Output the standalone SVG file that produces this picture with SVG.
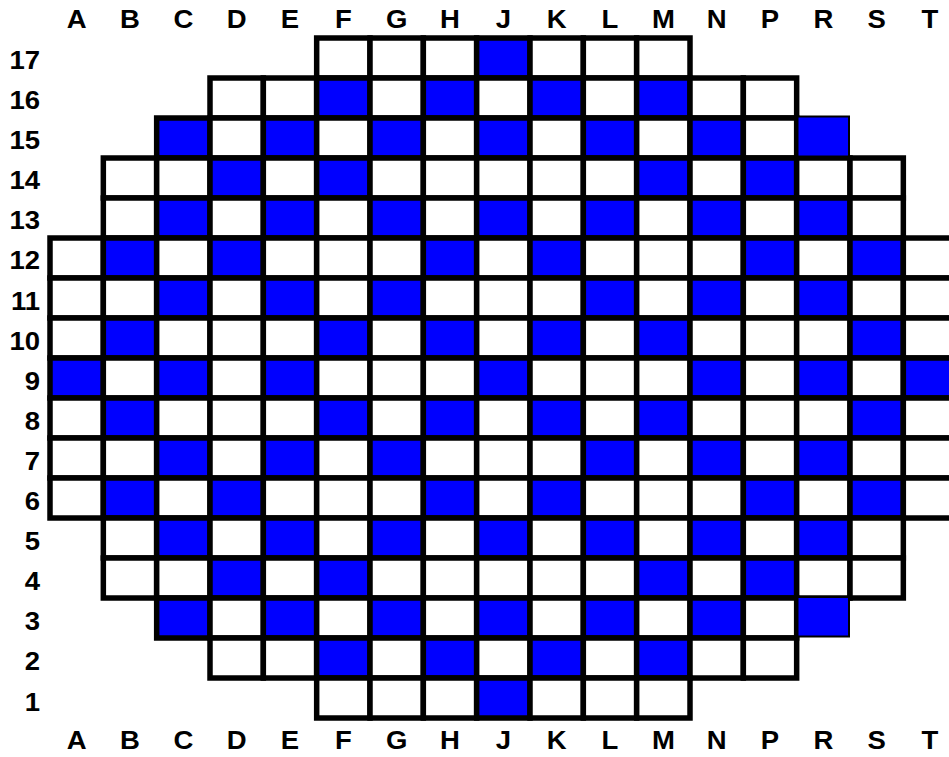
<svg xmlns="http://www.w3.org/2000/svg" width="949" height="757" viewBox="0 0 949 757">
<style>
rect{stroke:#000;stroke-width:5.5}
.w{fill:#fff}
.b{fill:#00f}
.x{fill:#00f;stroke-width:2}
text{font-family:"Liberation Sans",Arial,Helvetica,sans-serif;font-weight:bold;font-size:25px;fill:#000}
.col{text-anchor:middle}
.row{text-anchor:end}
</style>
<rect x="0" y="0" width="949" height="757" fill="#fff" style="stroke:none"/>
<g id="grid">
<g id="row-17">
<rect class="w" x="316.67" y="38" width="53.33" height="40"/><rect class="w" x="370" y="38" width="53.33" height="40"/><rect class="w" x="423.33" y="38" width="53.33" height="40"/><rect class="b" x="476.67" y="38" width="53.33" height="40"/><rect class="w" x="530" y="38" width="53.33" height="40"/><rect class="w" x="583.33" y="38" width="53.33" height="40"/><rect class="w" x="636.67" y="38" width="53.33" height="40"/>
</g>
<g id="row-16">
<rect class="w" x="210" y="78" width="53.33" height="40"/><rect class="w" x="263.33" y="78" width="53.33" height="40"/><rect class="b" x="316.67" y="78" width="53.33" height="40"/><rect class="w" x="370" y="78" width="53.33" height="40"/><rect class="b" x="423.33" y="78" width="53.33" height="40"/><rect class="w" x="476.67" y="78" width="53.33" height="40"/><rect class="b" x="530" y="78" width="53.33" height="40"/><rect class="w" x="583.33" y="78" width="53.33" height="40"/><rect class="b" x="636.67" y="78" width="53.33" height="40"/><rect class="w" x="690" y="78" width="53.33" height="40"/><rect class="w" x="743.33" y="78" width="53.33" height="40"/>
</g>
<g id="row-15">
<rect class="b" x="156.67" y="118" width="53.33" height="40"/><rect class="w" x="210" y="118" width="53.33" height="40"/><rect class="b" x="263.33" y="118" width="53.33" height="40"/><rect class="w" x="316.67" y="118" width="53.33" height="40"/><rect class="b" x="370" y="118" width="53.33" height="40"/><rect class="w" x="423.33" y="118" width="53.33" height="40"/><rect class="b" x="476.67" y="118" width="53.33" height="40"/><rect class="w" x="530" y="118" width="53.33" height="40"/><rect class="b" x="583.33" y="118" width="53.33" height="40"/><rect class="w" x="636.67" y="118" width="53.33" height="40"/><rect class="b" x="690" y="118" width="53.33" height="40"/><rect class="w" x="743.33" y="118" width="53.33" height="40"/>
</g>
<g id="row-14">
<rect class="w" x="103.33" y="158" width="53.33" height="40"/><rect class="w" x="156.67" y="158" width="53.33" height="40"/><rect class="b" x="210" y="158" width="53.33" height="40"/><rect class="w" x="263.33" y="158" width="53.33" height="40"/><rect class="b" x="316.67" y="158" width="53.33" height="40"/><rect class="w" x="370" y="158" width="53.33" height="40"/><rect class="w" x="423.33" y="158" width="53.33" height="40"/><rect class="w" x="476.67" y="158" width="53.33" height="40"/><rect class="w" x="530" y="158" width="53.33" height="40"/><rect class="w" x="583.33" y="158" width="53.33" height="40"/><rect class="b" x="636.67" y="158" width="53.33" height="40"/><rect class="w" x="690" y="158" width="53.33" height="40"/><rect class="b" x="743.33" y="158" width="53.33" height="40"/><rect class="w" x="796.67" y="158" width="53.33" height="40"/><rect class="w" x="850" y="158" width="53.33" height="40"/>
</g>
<g id="row-13">
<rect class="w" x="103.33" y="198" width="53.33" height="40"/><rect class="b" x="156.67" y="198" width="53.33" height="40"/><rect class="w" x="210" y="198" width="53.33" height="40"/><rect class="b" x="263.33" y="198" width="53.33" height="40"/><rect class="w" x="316.67" y="198" width="53.33" height="40"/><rect class="b" x="370" y="198" width="53.33" height="40"/><rect class="w" x="423.33" y="198" width="53.33" height="40"/><rect class="b" x="476.67" y="198" width="53.33" height="40"/><rect class="w" x="530" y="198" width="53.33" height="40"/><rect class="b" x="583.33" y="198" width="53.33" height="40"/><rect class="w" x="636.67" y="198" width="53.33" height="40"/><rect class="b" x="690" y="198" width="53.33" height="40"/><rect class="w" x="743.33" y="198" width="53.33" height="40"/><rect class="b" x="796.67" y="198" width="53.33" height="40"/><rect class="w" x="850" y="198" width="53.33" height="40"/>
</g>
<g id="row-12">
<rect class="w" x="50" y="238" width="53.33" height="40"/><rect class="b" x="103.33" y="238" width="53.33" height="40"/><rect class="w" x="156.67" y="238" width="53.33" height="40"/><rect class="b" x="210" y="238" width="53.33" height="40"/><rect class="w" x="263.33" y="238" width="53.33" height="40"/><rect class="w" x="316.67" y="238" width="53.33" height="40"/><rect class="w" x="370" y="238" width="53.33" height="40"/><rect class="b" x="423.33" y="238" width="53.33" height="40"/><rect class="w" x="476.67" y="238" width="53.33" height="40"/><rect class="b" x="530" y="238" width="53.33" height="40"/><rect class="w" x="583.33" y="238" width="53.33" height="40"/><rect class="w" x="636.67" y="238" width="53.33" height="40"/><rect class="w" x="690" y="238" width="53.33" height="40"/><rect class="b" x="743.33" y="238" width="53.33" height="40"/><rect class="w" x="796.67" y="238" width="53.33" height="40"/><rect class="b" x="850" y="238" width="53.33" height="40"/><rect class="w" x="903.33" y="238" width="53.33" height="40"/>
</g>
<g id="row-11">
<rect class="w" x="50" y="278" width="53.33" height="40"/><rect class="w" x="103.33" y="278" width="53.33" height="40"/><rect class="b" x="156.67" y="278" width="53.33" height="40"/><rect class="w" x="210" y="278" width="53.33" height="40"/><rect class="b" x="263.33" y="278" width="53.33" height="40"/><rect class="w" x="316.67" y="278" width="53.33" height="40"/><rect class="b" x="370" y="278" width="53.33" height="40"/><rect class="w" x="423.33" y="278" width="53.33" height="40"/><rect class="w" x="476.67" y="278" width="53.33" height="40"/><rect class="w" x="530" y="278" width="53.33" height="40"/><rect class="b" x="583.33" y="278" width="53.33" height="40"/><rect class="w" x="636.67" y="278" width="53.33" height="40"/><rect class="b" x="690" y="278" width="53.33" height="40"/><rect class="w" x="743.33" y="278" width="53.33" height="40"/><rect class="b" x="796.67" y="278" width="53.33" height="40"/><rect class="w" x="850" y="278" width="53.33" height="40"/><rect class="w" x="903.33" y="278" width="53.33" height="40"/>
</g>
<g id="row-10">
<rect class="w" x="50" y="318" width="53.33" height="40"/><rect class="b" x="103.33" y="318" width="53.33" height="40"/><rect class="w" x="156.67" y="318" width="53.33" height="40"/><rect class="w" x="210" y="318" width="53.33" height="40"/><rect class="w" x="263.33" y="318" width="53.33" height="40"/><rect class="b" x="316.67" y="318" width="53.33" height="40"/><rect class="w" x="370" y="318" width="53.33" height="40"/><rect class="b" x="423.33" y="318" width="53.33" height="40"/><rect class="w" x="476.67" y="318" width="53.33" height="40"/><rect class="b" x="530" y="318" width="53.33" height="40"/><rect class="w" x="583.33" y="318" width="53.33" height="40"/><rect class="b" x="636.67" y="318" width="53.33" height="40"/><rect class="w" x="690" y="318" width="53.33" height="40"/><rect class="w" x="743.33" y="318" width="53.33" height="40"/><rect class="w" x="796.67" y="318" width="53.33" height="40"/><rect class="b" x="850" y="318" width="53.33" height="40"/><rect class="w" x="903.33" y="318" width="53.33" height="40"/>
</g>
<g id="row-9">
<rect class="b" x="50" y="358" width="53.33" height="40"/><rect class="w" x="103.33" y="358" width="53.33" height="40"/><rect class="b" x="156.67" y="358" width="53.33" height="40"/><rect class="w" x="210" y="358" width="53.33" height="40"/><rect class="b" x="263.33" y="358" width="53.33" height="40"/><rect class="w" x="316.67" y="358" width="53.33" height="40"/><rect class="w" x="370" y="358" width="53.33" height="40"/><rect class="w" x="423.33" y="358" width="53.33" height="40"/><rect class="b" x="476.67" y="358" width="53.33" height="40"/><rect class="w" x="530" y="358" width="53.33" height="40"/><rect class="w" x="583.33" y="358" width="53.33" height="40"/><rect class="w" x="636.67" y="358" width="53.33" height="40"/><rect class="b" x="690" y="358" width="53.33" height="40"/><rect class="w" x="743.33" y="358" width="53.33" height="40"/><rect class="b" x="796.67" y="358" width="53.33" height="40"/><rect class="w" x="850" y="358" width="53.33" height="40"/><rect class="b" x="903.33" y="358" width="53.33" height="40"/>
</g>
<g id="row-8">
<rect class="w" x="50" y="398" width="53.33" height="40"/><rect class="b" x="103.33" y="398" width="53.33" height="40"/><rect class="w" x="156.67" y="398" width="53.33" height="40"/><rect class="w" x="210" y="398" width="53.33" height="40"/><rect class="w" x="263.33" y="398" width="53.33" height="40"/><rect class="b" x="316.67" y="398" width="53.33" height="40"/><rect class="w" x="370" y="398" width="53.33" height="40"/><rect class="b" x="423.33" y="398" width="53.33" height="40"/><rect class="w" x="476.67" y="398" width="53.33" height="40"/><rect class="b" x="530" y="398" width="53.33" height="40"/><rect class="w" x="583.33" y="398" width="53.33" height="40"/><rect class="b" x="636.67" y="398" width="53.33" height="40"/><rect class="w" x="690" y="398" width="53.33" height="40"/><rect class="w" x="743.33" y="398" width="53.33" height="40"/><rect class="w" x="796.67" y="398" width="53.33" height="40"/><rect class="b" x="850" y="398" width="53.33" height="40"/><rect class="w" x="903.33" y="398" width="53.33" height="40"/>
</g>
<g id="row-7">
<rect class="w" x="50" y="438" width="53.33" height="40"/><rect class="w" x="103.33" y="438" width="53.33" height="40"/><rect class="b" x="156.67" y="438" width="53.33" height="40"/><rect class="w" x="210" y="438" width="53.33" height="40"/><rect class="b" x="263.33" y="438" width="53.33" height="40"/><rect class="w" x="316.67" y="438" width="53.33" height="40"/><rect class="b" x="370" y="438" width="53.33" height="40"/><rect class="w" x="423.33" y="438" width="53.33" height="40"/><rect class="w" x="476.67" y="438" width="53.33" height="40"/><rect class="w" x="530" y="438" width="53.33" height="40"/><rect class="b" x="583.33" y="438" width="53.33" height="40"/><rect class="w" x="636.67" y="438" width="53.33" height="40"/><rect class="b" x="690" y="438" width="53.33" height="40"/><rect class="w" x="743.33" y="438" width="53.33" height="40"/><rect class="b" x="796.67" y="438" width="53.33" height="40"/><rect class="w" x="850" y="438" width="53.33" height="40"/><rect class="w" x="903.33" y="438" width="53.33" height="40"/>
</g>
<g id="row-6">
<rect class="w" x="50" y="478" width="53.33" height="40"/><rect class="b" x="103.33" y="478" width="53.33" height="40"/><rect class="w" x="156.67" y="478" width="53.33" height="40"/><rect class="b" x="210" y="478" width="53.33" height="40"/><rect class="w" x="263.33" y="478" width="53.33" height="40"/><rect class="w" x="316.67" y="478" width="53.33" height="40"/><rect class="w" x="370" y="478" width="53.33" height="40"/><rect class="b" x="423.33" y="478" width="53.33" height="40"/><rect class="w" x="476.67" y="478" width="53.33" height="40"/><rect class="b" x="530" y="478" width="53.33" height="40"/><rect class="w" x="583.33" y="478" width="53.33" height="40"/><rect class="w" x="636.67" y="478" width="53.33" height="40"/><rect class="w" x="690" y="478" width="53.33" height="40"/><rect class="b" x="743.33" y="478" width="53.33" height="40"/><rect class="w" x="796.67" y="478" width="53.33" height="40"/><rect class="b" x="850" y="478" width="53.33" height="40"/><rect class="w" x="903.33" y="478" width="53.33" height="40"/>
</g>
<g id="row-5">
<rect class="w" x="103.33" y="518" width="53.33" height="40"/><rect class="b" x="156.67" y="518" width="53.33" height="40"/><rect class="w" x="210" y="518" width="53.33" height="40"/><rect class="b" x="263.33" y="518" width="53.33" height="40"/><rect class="w" x="316.67" y="518" width="53.33" height="40"/><rect class="b" x="370" y="518" width="53.33" height="40"/><rect class="w" x="423.33" y="518" width="53.33" height="40"/><rect class="b" x="476.67" y="518" width="53.33" height="40"/><rect class="w" x="530" y="518" width="53.33" height="40"/><rect class="b" x="583.33" y="518" width="53.33" height="40"/><rect class="w" x="636.67" y="518" width="53.33" height="40"/><rect class="b" x="690" y="518" width="53.33" height="40"/><rect class="w" x="743.33" y="518" width="53.33" height="40"/><rect class="b" x="796.67" y="518" width="53.33" height="40"/><rect class="w" x="850" y="518" width="53.33" height="40"/>
</g>
<g id="row-4">
<rect class="w" x="103.33" y="558" width="53.33" height="40"/><rect class="w" x="156.67" y="558" width="53.33" height="40"/><rect class="b" x="210" y="558" width="53.33" height="40"/><rect class="w" x="263.33" y="558" width="53.33" height="40"/><rect class="b" x="316.67" y="558" width="53.33" height="40"/><rect class="w" x="370" y="558" width="53.33" height="40"/><rect class="w" x="423.33" y="558" width="53.33" height="40"/><rect class="w" x="476.67" y="558" width="53.33" height="40"/><rect class="w" x="530" y="558" width="53.33" height="40"/><rect class="w" x="583.33" y="558" width="53.33" height="40"/><rect class="b" x="636.67" y="558" width="53.33" height="40"/><rect class="w" x="690" y="558" width="53.33" height="40"/><rect class="b" x="743.33" y="558" width="53.33" height="40"/><rect class="w" x="796.67" y="558" width="53.33" height="40"/><rect class="w" x="850" y="558" width="53.33" height="40"/>
</g>
<g id="row-3">
<rect class="b" x="156.67" y="598" width="53.33" height="40"/><rect class="w" x="210" y="598" width="53.33" height="40"/><rect class="b" x="263.33" y="598" width="53.33" height="40"/><rect class="w" x="316.67" y="598" width="53.33" height="40"/><rect class="b" x="370" y="598" width="53.33" height="40"/><rect class="w" x="423.33" y="598" width="53.33" height="40"/><rect class="b" x="476.67" y="598" width="53.33" height="40"/><rect class="w" x="530" y="598" width="53.33" height="40"/><rect class="b" x="583.33" y="598" width="53.33" height="40"/><rect class="w" x="636.67" y="598" width="53.33" height="40"/><rect class="b" x="690" y="598" width="53.33" height="40"/><rect class="w" x="743.33" y="598" width="53.33" height="40"/>
</g>
<g id="row-2">
<rect class="w" x="210" y="638" width="53.33" height="40"/><rect class="w" x="263.33" y="638" width="53.33" height="40"/><rect class="b" x="316.67" y="638" width="53.33" height="40"/><rect class="w" x="370" y="638" width="53.33" height="40"/><rect class="b" x="423.33" y="638" width="53.33" height="40"/><rect class="w" x="476.67" y="638" width="53.33" height="40"/><rect class="b" x="530" y="638" width="53.33" height="40"/><rect class="w" x="583.33" y="638" width="53.33" height="40"/><rect class="b" x="636.67" y="638" width="53.33" height="40"/><rect class="w" x="690" y="638" width="53.33" height="40"/><rect class="w" x="743.33" y="638" width="53.33" height="40"/>
</g>
<g id="row-1">
<rect class="w" x="316.67" y="678" width="53.33" height="40"/><rect class="w" x="370" y="678" width="53.33" height="40"/><rect class="w" x="423.33" y="678" width="53.33" height="40"/><rect class="b" x="476.67" y="678" width="53.33" height="40"/><rect class="w" x="530" y="678" width="53.33" height="40"/><rect class="w" x="583.33" y="678" width="53.33" height="40"/><rect class="w" x="636.67" y="678" width="53.33" height="40"/>
</g>
<g id="extra-R15"><rect class="x" x="797.5" y="116.5" width="51.5" height="40"/></g>
<g id="extra-R3"><rect class="x" x="797.5" y="597" width="51.5" height="39.5"/></g>
</g>
<g id="col-labels-top" transform="scale(1.1,1)">
<text class="col" x="69.70" y="28">A</text><text class="col" x="118.18" y="28">B</text><text class="col" x="166.67" y="28">C</text><text class="col" x="215.15" y="28">D</text><text class="col" x="263.64" y="28">E</text><text class="col" x="312.12" y="28">F</text><text class="col" x="360.61" y="28">G</text><text class="col" x="409.09" y="28">H</text><text class="col" x="457.58" y="28">J</text><text class="col" x="506.06" y="28">K</text><text class="col" x="554.55" y="28">L</text><text class="col" x="603.03" y="28">M</text><text class="col" x="651.52" y="28">N</text><text class="col" x="700" y="28">P</text><text class="col" x="748.48" y="28">R</text><text class="col" x="796.97" y="28">S</text><text class="col" x="845.45" y="28">T</text>
</g>
<g id="col-labels-bottom" transform="scale(1.1,1)">
<text class="col" x="69.70" y="749.5">A</text><text class="col" x="118.18" y="749.5">B</text><text class="col" x="166.67" y="749.5">C</text><text class="col" x="215.15" y="749.5">D</text><text class="col" x="263.64" y="749.5">E</text><text class="col" x="312.12" y="749.5">F</text><text class="col" x="360.61" y="749.5">G</text><text class="col" x="409.09" y="749.5">H</text><text class="col" x="457.58" y="749.5">J</text><text class="col" x="506.06" y="749.5">K</text><text class="col" x="554.55" y="749.5">L</text><text class="col" x="603.03" y="749.5">M</text><text class="col" x="651.52" y="749.5">N</text><text class="col" x="700" y="749.5">P</text><text class="col" x="748.48" y="749.5">R</text><text class="col" x="796.97" y="749.5">S</text><text class="col" x="845.45" y="749.5">T</text>
</g>
<g id="row-labels" transform="scale(1.1,1)">
<text class="row" x="36.36" y="69">17</text><text class="row" x="36.36" y="109.1">16</text><text class="row" x="36.36" y="149.2">15</text><text class="row" x="36.36" y="189.3">14</text><text class="row" x="36.36" y="229.4">13</text><text class="row" x="36.36" y="269.5">12</text><text class="row" x="36.36" y="309.6">11</text><text class="row" x="36.36" y="349.7">10</text><text class="row" x="36.36" y="389.8">9</text><text class="row" x="36.36" y="429.9">8</text><text class="row" x="36.36" y="470">7</text><text class="row" x="36.36" y="510.1">6</text><text class="row" x="36.36" y="550.2">5</text><text class="row" x="36.36" y="590.3">4</text><text class="row" x="36.36" y="630.4">3</text><text class="row" x="36.36" y="670.5">2</text><text class="row" x="36.36" y="710.6">1</text>
</g>
</svg>
